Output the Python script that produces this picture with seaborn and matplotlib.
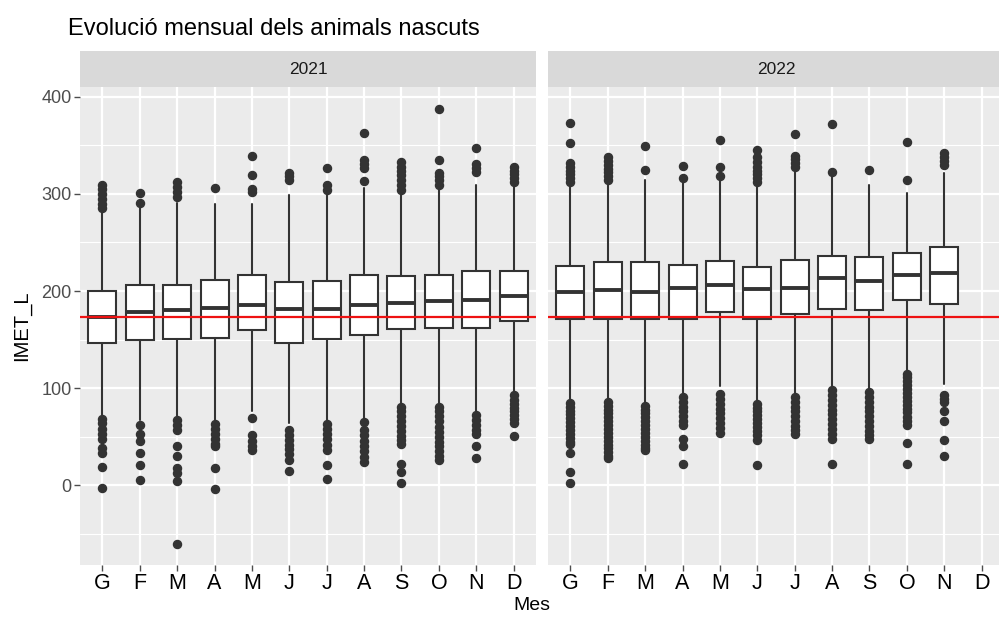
import matplotlib
matplotlib.use("Agg")
import matplotlib.pyplot as plt
import seaborn as sns
from matplotlib.ticker import MultipleLocator

# ---- data (box statistics per month) ----
month_labels = ["G", "F", "M", "A", "M", "J", "J", "A", "S", "O", "N", "D"]
years = ["2021", "2022"]
ref_line = 173

q1_2021 = [147, 150, 151, 152, 160, 147, 151, 155, 161, 162, 162, 169]
med_2021 = [173, 178, 180, 183, 186, 182, 181, 186, 188, 190, 191, 195]
q3_2021 = [200, 206, 206, 211, 216, 209, 210, 216, 215, 217, 221, 221]
wlo_2021 = [72, 67, 70, 66, 77, 64, 67, 69, 84, 84, 76, 95]
whi_2021 = [280, 287, 291, 290, 290, 299, 299, 306, 302, 304, 309, 308]
fliers_2021 = [
    [285, 290, 295, 300, 305, 309, 68, 64, 58, 53, 48, 38, 33, 19, -3],
    [291, 301, 62, 53, 46, 33, 21, 5],
    [297, 302, 307, 312, 67, 62, 57, 40, 30, 18, 13, 4, -60],
    [306, 63, 58, 53, 48, 43, 40, 18, -4],
    [302, 305, 319, 339, 69, 52, 46, 41, 36],
    [314, 318, 321, 57, 52, 47, 42, 37, 32, 26, 15],
    [304, 309, 327, 63, 58, 53, 48, 42, 36, 21, 7],
    [313, 327, 331, 335, 363, 65, 57, 52, 46, 41, 35, 29, 24],
    [304, 309, 314, 319, 324, 328, 333, 81, 76, 71, 66, 61, 56, 51, 47, 43, 22, 14, 2],
    [309, 314, 318, 321, 335, 387, 81, 76, 71, 66, 60, 55, 50, 45, 40, 35, 30, 26],
    [323, 327, 331, 347, 72, 67, 62, 57, 53, 40, 28],
    [312, 316, 320, 324, 328, 93, 88, 84, 80, 76, 72, 68, 64, 51],
]

q1_2022 = [171, 171, 171, 171, 178, 171, 176, 181, 180, 191, 187]
med_2022 = [199, 201, 199, 203, 206, 202, 203, 213, 210, 217, 219]
q3_2022 = [226, 230, 230, 227, 231, 225, 232, 236, 235, 239, 245]
wlo_2022 = [88, 88, 84, 94, 102, 86, 93, 100, 98, 117, 104]
whi_2022 = [307, 311, 314, 311, 313, 308, 323, 317, 309, 301, 321]
fliers_2022 = [
    [312, 316, 320, 324, 328, 332, 352, 373, 85, 81, 77, 73, 69, 65, 61, 57, 53, 49, 45, 43, 33, 14, 2],
    [314, 318, 322, 326, 330, 334, 338, 86, 82, 78, 74, 70, 66, 62, 58, 54, 50, 46, 42, 38, 34, 30, 28],
    [325, 349, 82, 78, 74, 70, 66, 62, 58, 54, 50, 46, 42, 38, 36],
    [316, 329, 91, 86, 81, 76, 71, 66, 62, 48, 40, 22],
    [318, 328, 355, 94, 89, 84, 79, 74, 69, 64, 59, 54],
    [312, 316, 320, 324, 328, 333, 338, 345, 84, 80, 76, 72, 68, 64, 60, 56, 52, 47, 21],
    [328, 332, 336, 339, 362, 91, 86, 81, 76, 71, 66, 61, 57, 53],
    [322, 372, 98, 93, 88, 83, 78, 73, 68, 63, 58, 53, 48, 22],
    [325, 96, 91, 86, 81, 76, 71, 66, 61, 56, 52, 48],
    [314, 353, 115, 111, 107, 103, 99, 95, 91, 87, 83, 79, 75, 70, 66, 62, 44, 22],
    [330, 334, 338, 342, 93, 89, 86, 76, 66, 47, 30],
]

sns.set_theme(style="darkgrid", rc={
    "axes.facecolor": "#EBEBEB",
    "grid.color": "white",
    "axes.edgecolor": "#EBEBEB",
})
plt.rcParams["font.family"] = ["Liberation Sans", "DejaVu Sans"]


def make_stats(q1, med, q3, wlo, whi, fliers):
    stats = []
    for i in range(len(q1)):
        stats.append({"q1": q1[i], "med": med[i], "q3": q3[i],
                      "whislo": wlo[i], "whishi": whi[i], "fliers": fliers[i]})
    return stats


panels = {
    "2021": make_stats(q1_2021, med_2021, q3_2021, wlo_2021, whi_2021, fliers_2021),
    "2022": make_stats(q1_2022, med_2022, q3_2022, wlo_2022, whi_2022, fliers_2022),
}

W, H = 999, 621
fig = plt.figure(figsize=(W / 100, H / 100), dpi=100)
fig.patch.set_facecolor("white")

p_top, p_bot = 87, 565
strip_top = 51
lefts = [80, 548]
pw = 456

dark = "#333333"
for k, yr in enumerate(years):
    ax = fig.add_axes([lefts[k] / W, 1 - p_bot / H, pw / W, (p_bot - p_top) / H])
    stats = panels[yr]
    ax.bxp(stats, positions=list(range(len(stats))), widths=0.75,
           showcaps=False, patch_artist=True,
           boxprops=dict(facecolor="white", edgecolor=dark, linewidth=1.5),
           medianprops=dict(color=dark, linewidth=2.8),
           whiskerprops=dict(color=dark, linewidth=1.5),
           flierprops=dict(marker="o", markerfacecolor=dark, markeredgecolor=dark,
                           markersize=5.8, linestyle="none"),
           zorder=3)
    ax.axhline(ref_line, color="#EE1111", linewidth=1.6, zorder=5)
    ax.set_xlim(-0.6, 11.6)
    ax.set_ylim(-82, 410)
    ax.set_xticks(range(len(month_labels)))
    ax.set_xticklabels(month_labels, fontsize=15.5, color="black",
                       family=["Liberation Sans Narrow", "Liberation Sans"])
    ax.yaxis.set_major_locator(MultipleLocator(100))
    ax.yaxis.set_minor_locator(MultipleLocator(50))
    ax.grid(which="major", color="white", linewidth=1.6)
    ax.grid(which="minor", axis="y", color="white", linewidth=0.8)
    ax.tick_params(axis="both", which="major", length=4, width=1, color="#4D4D4D",
                   bottom=True, left=True, pad=2)
    ax.tick_params(axis="y", which="minor", length=0)
    ax.tick_params(axis="y", labelsize=13, labelcolor="#4D4D4D")
    if k == 1:
        ax.tick_params(axis="y", left=False, labelleft=False)
    for s in ax.spines.values():
        s.set_visible(False)
    ax.set_axisbelow(True)

    sax = fig.add_axes([lefts[k] / W, 1 - p_top / H, pw / W, (p_top - strip_top) / H])
    sax.set_facecolor("#D9D9D9")
    sax.set_xticks([])
    sax.set_yticks([])
    for s in sax.spines.values():
        s.set_visible(False)
    sax.text(0.5, 0.5, yr, ha="center", va="center", fontsize=12.5, color="#1A1A1A",
             transform=sax.transAxes)

fig.text(68 / W, 1 - 35 / H, "Evolució mensual dels animals nascuts",
         fontsize=17, color="black", ha="left", va="baseline")
fig.text(22 / W, 1 - 326 / H, "IMET_L", rotation=90, fontsize=14.5,
         ha="center", va="center", color="black")
fig.text(532 / W, 1 - 606 / H, "Mes", fontsize=14, ha="center", va="center",
         color="black")

plt.savefig("out.png", dpi=100)
